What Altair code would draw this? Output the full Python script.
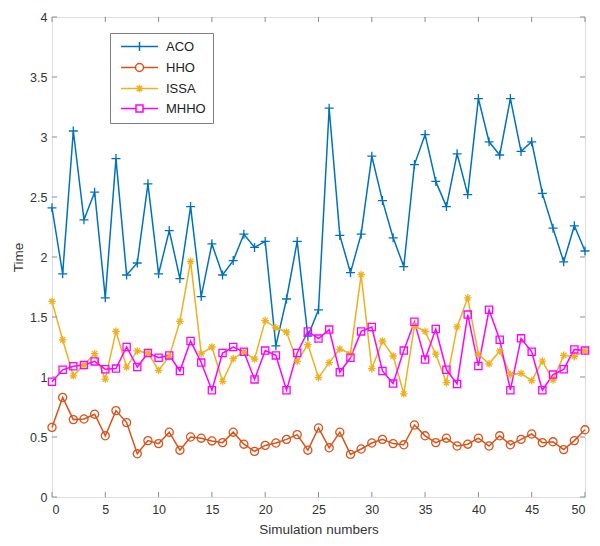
import altair as alt
import pandas as pd

sim = list(range(51))
series_names = ["ACO", "HHO", "ISSA", "MHHO"]
colors = ["#0072BD", "#D95319", "#EDB120", "#FF00FF"]

aco = [2.41, 1.86, 3.05, 2.31, 2.54, 1.66, 2.82, 1.85, 1.95, 2.61,
       1.86, 2.22, 1.82, 2.42, 1.67, 2.11, 1.85, 1.97, 2.19, 2.08,
       2.13, 1.26, 1.65, 2.13, 1.34, 1.56, 3.24, 2.18, 1.87, 2.19,
       2.84, 2.47, 2.16, 1.92, 2.77, 3.02, 2.63, 2.42, 2.86, 2.52,
       3.32, 2.96, 2.85, 3.32, 2.88, 2.96, 2.53, 2.24, 1.96, 2.26, 2.05]
hho = [0.58, 0.83, 0.645, 0.65, 0.69, 0.51, 0.72, 0.62, 0.36, 0.47,
       0.445, 0.54, 0.39, 0.50, 0.49, 0.467, 0.453, 0.54, 0.44, 0.38,
       0.43, 0.45, 0.48, 0.52, 0.39, 0.575, 0.41, 0.54, 0.355, 0.40,
       0.45, 0.48, 0.445, 0.435, 0.60, 0.51, 0.453, 0.49, 0.425, 0.44,
       0.49, 0.425, 0.51, 0.435, 0.48, 0.525, 0.453, 0.46, 0.395, 0.47, 0.56]
issa = [1.63, 1.31, 1.01, 1.10, 1.195, 0.983, 1.38, 1.083, 1.217, 1.20,
        1.056, 1.17, 1.464, 1.964, 1.195, 1.25, 0.964, 1.153, 1.21, 1.15,
        1.47, 1.41, 1.375, 1.13, 1.27, 0.995, 1.12, 1.233, 1.195, 1.853,
        1.07, 1.30, 1.175, 0.86, 1.425, 1.38, 1.19, 0.953, 1.417, 1.66,
        1.19, 1.11, 1.217, 1.02, 1.03, 0.97, 1.133, 0.975, 1.18, 1.17, 1.22]
mhho = [0.96, 1.06, 1.09, 1.10, 1.13, 1.064, 1.07, 1.25, 1.083, 1.20,
        1.16, 1.18, 1.05, 1.30, 1.12, 0.89, 1.20, 1.25, 1.21, 0.98,
        1.22, 1.18, 0.89, 1.20, 1.38, 1.32, 1.395, 1.04, 1.16, 1.38,
        1.417, 1.05, 0.945, 1.22, 1.46, 1.145, 1.40, 1.06, 0.942, 1.52,
        1.092, 1.56, 1.31, 0.89, 1.322, 1.21, 0.89, 1.02, 1.064, 1.23, 1.22]

x_ticks = [0, 5, 10, 15, 20, 25, 30, 35, 40, 45, 50]
y_ticks = [0, 0.5, 1, 1.5, 2, 2.5, 3, 3.5, 4]

rows = []
for name, vals in zip(series_names, [aco, hho, issa, mhho]):
    for s, v in zip(sim, vals):
        rows.append({"sim": s, "time": v, "alg": name})
df = pd.DataFrame(rows)

W, H = 533, 480
FONT = "Liberation Sans"
AX = "#8c8c8c"
TXT = "#333333"

marker_paths = [
    "M-1,0H1M0,-1V1",
    "M0.9,0A0.9,0.9,0,1,1,-0.9,0A0.9,0.9,0,1,1,0.9,0",
    "M-0.85,0H0.85M0,-0.85V0.85M-0.6,-0.6L0.6,0.6M-0.6,0.6L0.6,-0.6",
    "M-0.8,-0.8H0.8V0.8H-0.8Z",
]
# legend symbols: size 100 -> 5 px per unit; line spans +-3.7 units (37 px)
legend_paths = [
    "M-3.7,0H3.7M0,-0.9V0.9",
    "M-3.7,0H-0.8M0.8,0H3.7M0.8,0A0.8,0.8,0,1,1,-0.8,0A0.8,0.8,0,1,1,0.8,0",
    "M-3.7,0H3.7M0,-0.75V0.75M-0.55,-0.55L0.55,0.55M-0.55,0.55L0.55,-0.55",
    "M-3.7,0H-0.7M0.7,0H3.7M-0.7,-0.7H0.7V0.7H-0.7Z",
]

xscale = alt.Scale(domain=[0, 50], nice=False, zero=False)
yscale = alt.Scale(domain=[0, 4], nice=False)

x_axis = alt.Axis(values=x_ticks, title="Simulation numbers", format="d",
                  domain=False, ticks=False, grid=False,
                  labelPadding=6, labelFontSize=12.5, labelFont=FONT,
                  labelColor=TXT, titleFont=FONT, titleFontSize=13.5,
                  titleFontWeight="normal", titleColor=TXT, titlePadding=7)
y_axis = alt.Axis(values=y_ticks, title="Time", format=".1~f",
                  domain=False, ticks=False, grid=False,
                  labelPadding=5, labelFontSize=12.5, labelFont=FONT,
                  labelColor=TXT, titleFont=FONT, titleFontSize=13.5,
                  titleFontWeight="normal", titleColor=TXT, titlePadding=4)

base = alt.Chart(df)

lines = base.mark_line(strokeWidth=1.5).encode(
    x=alt.X("sim:Q", scale=xscale, axis=x_axis),
    y=alt.Y("time:Q", scale=yscale, axis=y_axis),
    stroke=alt.Stroke("alg:N", scale=alt.Scale(domain=series_names, range=colors), legend=None))

points = base.mark_point(filled=False, strokeWidth=1.3, size=81, opacity=1).encode(
    x=alt.X("sim:Q", scale=xscale, axis=x_axis),
    y=alt.Y("time:Q", scale=yscale, axis=y_axis),
    stroke=alt.Stroke("alg:N", scale=alt.Scale(domain=series_names, range=colors), legend=None),
    shape=alt.Shape("alg:N", scale=alt.Scale(domain=series_names, range=marker_paths), legend=None))

leg = alt.Legend(orient="none", legendX=58, legendY=16, title=None,
                 strokeColor="#7f7f7f", fillColor="white", padding=7,
                 symbolSize=100, symbolStrokeWidth=1.5, symbolOpacity=1,
                 symbolOffset=16,
                 labelFont=FONT, labelFontSize=13, labelColor="#222222",
                 labelOffset=20, rowPadding=6, cornerRadius=0)

legend_layer = base.mark_point(filled=False, opacity=0, size=81).encode(
    x=alt.X("sim:Q", scale=xscale, axis=x_axis),
    y=alt.Y("time:Q", scale=yscale, axis=y_axis),
    color=alt.Color("alg:N", scale=alt.Scale(domain=series_names, range=colors), legend=leg),
    shape=alt.Shape("alg:N", scale=alt.Scale(domain=series_names, range=legend_paths), legend=leg))

xt = pd.DataFrame({"sim": x_ticks})
yt = pd.DataFrame({"time": y_ticks})
tick_bottom = alt.Chart(xt).mark_rule(color=AX, strokeWidth=1).encode(
    x=alt.X("sim:Q", scale=xscale, axis=x_axis), y=alt.value(H), y2=alt.value(H - 5))
tick_top = alt.Chart(xt).mark_rule(color=AX, strokeWidth=1).encode(
    x=alt.X("sim:Q", scale=xscale, axis=x_axis), y=alt.value(0), y2=alt.value(5))
tick_left = alt.Chart(yt).mark_rule(color=AX, strokeWidth=1).encode(
    y=alt.Y("time:Q", scale=yscale, axis=y_axis), x=alt.value(0), x2=alt.value(5))
tick_right = alt.Chart(yt).mark_rule(color=AX, strokeWidth=1).encode(
    y=alt.Y("time:Q", scale=yscale, axis=y_axis), x=alt.value(W - 5), x2=alt.value(W))

chart = alt.layer(
    lines, points, legend_layer, tick_bottom, tick_top, tick_left, tick_right
).resolve_scale(
    shape="independent", color="independent"
).resolve_legend(
    shape="independent", color="independent"
).properties(
    width=W, height=H,
    padding={"left": 44, "top": 9, "right": 7, "bottom": 41},
    autosize=alt.AutoSizeParams(type="none"),
).configure_view(stroke=AX, strokeWidth=1).configure(background="white")

chart.save("out.html", embed_options={"renderer": "svg", "actions": False})
